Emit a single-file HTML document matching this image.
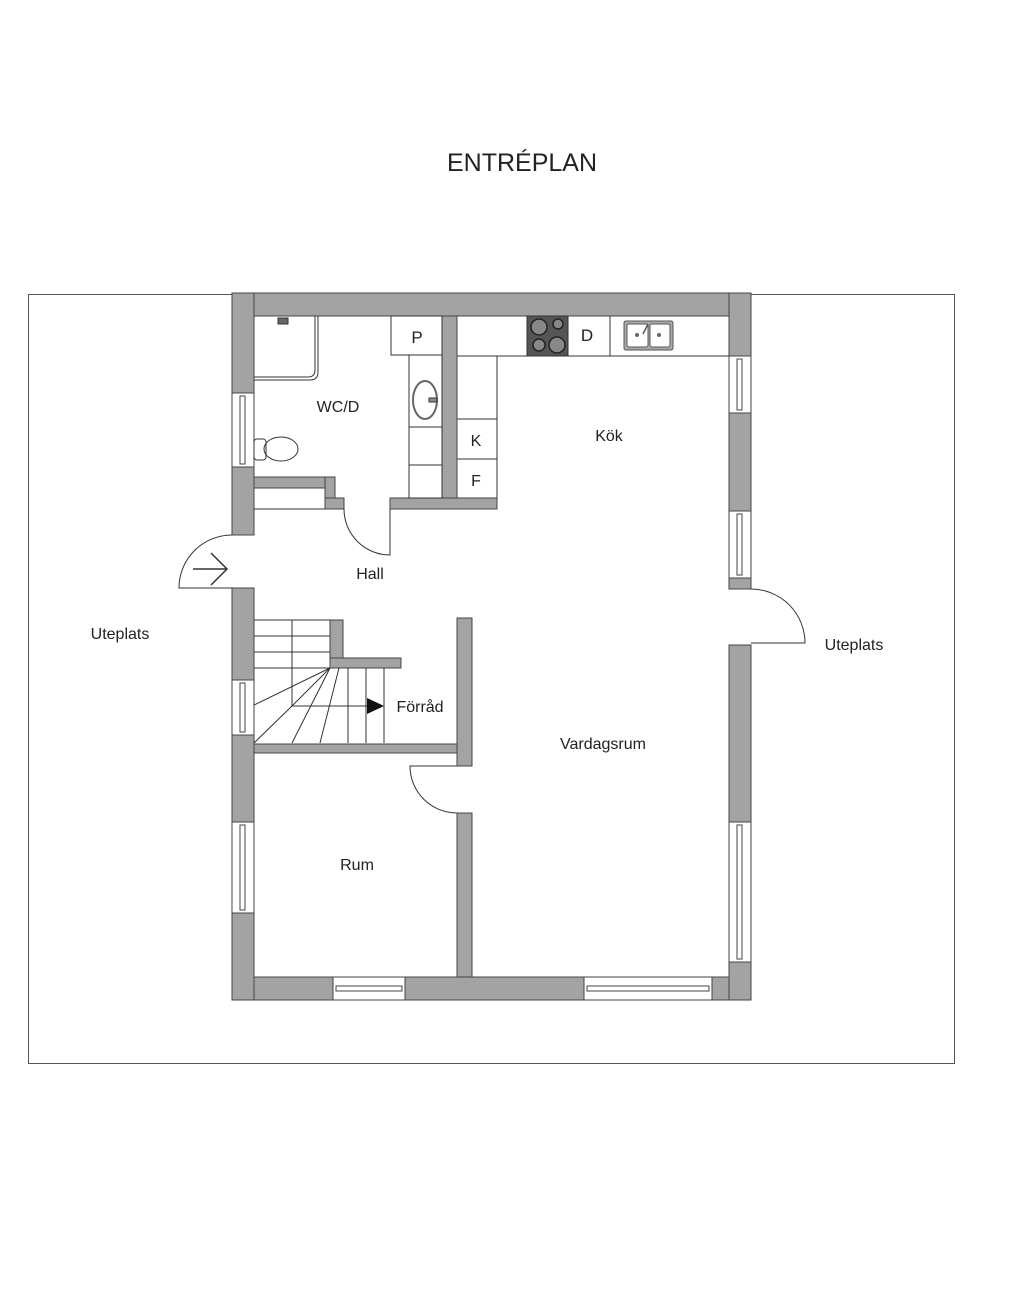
<!DOCTYPE html>
<html><head><meta charset="utf-8"><style>
html,body{margin:0;padding:0;background:#fff;width:1024px;height:1293px;overflow:hidden}
svg{display:block}
text{font-family:"Liberation Sans",sans-serif;fill:#222}
</style></head><body>
<svg width="1024" height="1293" viewBox="0 0 1024 1293">
<text x="522" y="171" font-size="25" text-anchor="middle" fill="#333">ENTRÉPLAN</text>
<rect x="28.5" y="294.5" width="926" height="769" fill="none" stroke="#555" stroke-width="1"/>
<g fill="#a3a3a3" stroke="#444" stroke-width="1">
<!-- outer walls -->
<rect x="232" y="293" width="519" height="23"/>
<rect x="232" y="977" width="519" height="23"/>
<rect x="232" y="293" width="22" height="100"/>
<rect x="232" y="467" width="22" height="68"/>
<rect x="232" y="588" width="22" height="92"/>
<rect x="232" y="735" width="22" height="87"/>
<rect x="232" y="913" width="22" height="87"/>
<rect x="729" y="293" width="22" height="63"/>
<rect x="729" y="413" width="22" height="98"/>
<rect x="729" y="578" width="22" height="11"/>
<rect x="729" y="645" width="22" height="177"/>
<rect x="729" y="962" width="22" height="38"/>
<!-- interior -->
<rect x="442" y="316" width="15" height="193"/>
<rect x="254" y="477" width="81" height="11"/>
<rect x="325" y="477" width="10" height="21"/>
<rect x="325" y="498" width="19" height="11"/>
<rect x="390" y="498" width="107" height="11"/>
<rect x="330" y="620" width="13" height="48"/>
<rect x="330" y="658" width="71" height="10"/>
<rect x="254" y="744" width="218" height="9"/>
<rect x="457" y="618" width="15" height="148"/>
<rect x="457" y="813" width="15" height="164"/>
</g>
<!-- windows -->
<g fill="#fff" stroke="#444" stroke-width="1">
<rect x="232" y="393" width="22" height="74"/>
<rect x="240" y="396" width="5" height="68"/>
<rect x="232" y="680" width="22" height="55"/>
<rect x="240" y="683" width="5" height="49"/>
<rect x="232" y="822" width="22" height="91"/>
<rect x="240" y="825" width="5" height="85"/>
<rect x="729" y="356" width="22" height="57"/>
<rect x="737" y="359" width="5" height="51"/>
<rect x="729" y="511" width="22" height="67"/>
<rect x="737" y="514" width="5" height="61"/>
<rect x="729" y="822" width="22" height="140"/>
<rect x="737" y="825" width="5" height="134"/>
<rect x="333" y="977" width="72" height="23"/>
<rect x="336" y="986" width="66" height="5"/>
<rect x="584" y="977" width="128" height="23"/>
<rect x="587" y="986" width="122" height="5"/>
</g>
<g fill="none" stroke="#333" stroke-width="1">
<!-- doors -->
<path d="M232 535 A53 53 0 0 0 179 588 L232 588"/>
<path d="M193 569 L226 569 M211 553 L227 569 L211 585" stroke-width="1.5"/>
<path d="M751 589 A54 54 0 0 1 805 643 L751 643"/>
<path d="M390 509 L390 555 A46 46 0 0 1 344 509"/>
<path d="M457 766 L410 766 A47 47 0 0 0 457 813"/>
<line x1="254" y1="509" x2="325" y2="509"/>
<!-- shower -->
<path d="M254 380 L310 380 Q318 380 318 372 L318 316"/>
<path d="M254 377 L308 377 Q315 377 315 370 L315 316"/>
<!-- WC fixtures -->
<rect x="391" y="316" width="51" height="39" fill="#fff"/>
<rect x="409" y="355" width="33" height="143"/>
<line x1="409" y1="427" x2="442" y2="427"/>
<line x1="409" y1="465" x2="442" y2="465"/>
<ellipse cx="425" cy="400" rx="12" ry="19" stroke="#666" stroke-width="2"/>
<rect x="429" y="398" width="8" height="4" fill="#888"/>
<ellipse cx="281" cy="449" rx="17" ry="12"/>
<rect x="254" y="439" width="12" height="21" rx="3"/>
<path d="M278 318 h10 v6 h-10z" fill="#666"/>
<!-- kitchen -->
<path d="M457 356 L729 356"/>
<path d="M497 356 L497 498"/>
<line x1="457" y1="419" x2="497" y2="419"/>
<line x1="457" y1="459" x2="497" y2="459"/>
<line x1="610" y1="316" x2="610" y2="356"/>
<!-- stairs -->
<line x1="254" y1="620" x2="330" y2="620"/>
<line x1="254" y1="636" x2="330" y2="636"/>
<line x1="254" y1="652" x2="330" y2="652"/>
<line x1="254" y1="668" x2="330" y2="668"/>
<line x1="292" y1="620" x2="292" y2="706"/>
<line x1="330" y1="668" x2="254" y2="705"/>
<line x1="330" y1="668" x2="292" y2="706"/>
<line x1="292" y1="706" x2="254" y2="743"/>
<line x1="330" y1="668" x2="292" y2="743"/>
<line x1="339" y1="668" x2="320" y2="743"/>
<line x1="348" y1="668" x2="348" y2="743"/>
<line x1="366" y1="668" x2="366" y2="743"/>
<line x1="384" y1="668" x2="384" y2="743"/>
<line x1="292" y1="706" x2="368" y2="706"/>
</g>
<polygon points="367,698 384,706 367,714" fill="#111"/>
<!-- stove -->
<rect x="527" y="316" width="41" height="40" fill="#555" stroke="#333"/>
<g fill="#888" stroke="#222" stroke-width="1.5">
<circle cx="539" cy="327" r="8"/><circle cx="558" cy="324" r="5"/>
<circle cx="539" cy="345" r="6"/><circle cx="557" cy="345" r="8"/>
</g>
<!-- sink -->
<rect x="624" y="321" width="49" height="29" rx="2" fill="#aaa" stroke="#555"/>
<rect x="627" y="324" width="21" height="23" rx="2" fill="#fff" stroke="#555"/>
<rect x="650" y="324" width="20" height="23" rx="2" fill="#fff" stroke="#555"/>
<circle cx="637" cy="335" r="2" fill="#666"/><circle cx="659" cy="335" r="2" fill="#666"/>
<line x1="643" y1="334" x2="648" y2="324" stroke="#555" stroke-width="1.5"/>
<!-- labels -->
<g font-size="16">
<text x="120" y="639" text-anchor="middle">Uteplats</text>
<text x="854" y="650" text-anchor="middle">Uteplats</text>
<text x="370" y="579" text-anchor="middle">Hall</text>
<text x="338" y="412" text-anchor="middle">WC/D</text>
<text x="609" y="441" text-anchor="middle">Kök</text>
<text x="603" y="749" text-anchor="middle">Vardagsrum</text>
<text x="357" y="870" text-anchor="middle">Rum</text>
<text x="420" y="712" text-anchor="middle">Förråd</text>
<text x="476" y="446" text-anchor="middle">K</text>
<text x="476" y="486" text-anchor="middle">F</text>
<text x="417" y="343" text-anchor="middle" font-size="17">P</text>
<text x="587" y="341" text-anchor="middle" font-size="17">D</text>
</g>
</svg>
</body></html>
